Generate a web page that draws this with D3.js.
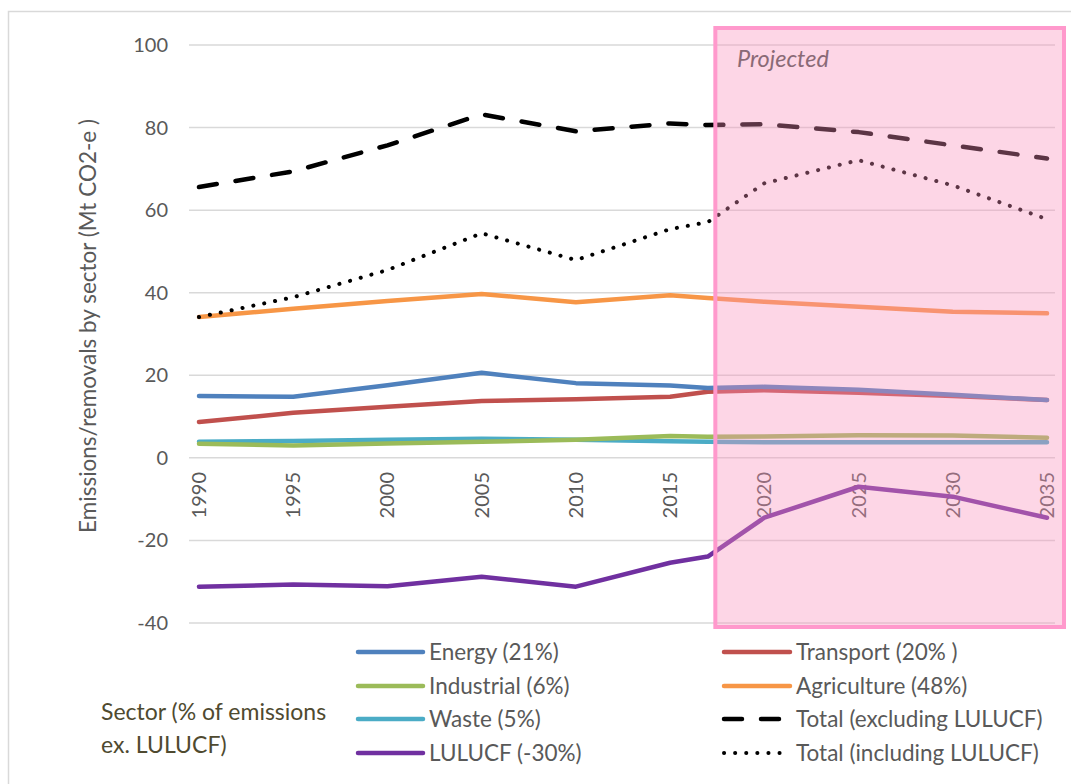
<!DOCTYPE html>
<html>
<head>
<meta charset="utf-8">
<script src="https://cdn.jsdelivr.net/npm/d3@7"></script>
<style>
  body { margin: 0; background: #fff; }
  text { font-family: Lato, "Open Sans", sans-serif; }
</style>
</head>
<body>
<div id="chart"></div>
<script>
// data (Mt CO2-e)
let years       = [1990, 1995, 2000, 2005, 2010, 2015, 2017, 2020, 2025, 2030, 2035]
let energy      = [15.0, 14.8, 17.6, 20.6, 18.1, 17.5, 16.9, 17.2, 16.5, 15.3, 14.0]
let transport   = [8.7, 10.9, 12.4, 13.8, 14.2, 14.8, 16.0, 16.4, 15.8, 15.0, 14.0]
let industrial  = [3.4, 3.0, 3.5, 3.9, 4.4, 5.3, 5.1, 5.2, 5.5, 5.4, 4.9]
let agriculture = [34.1, 36.1, 38.0, 39.7, 37.7, 39.4, 38.7, 37.8, 36.6, 35.4, 35.0]
let waste       = [3.9, 4.1, 4.4, 4.6, 4.4, 4.0, 3.9, 3.8, 3.8, 3.8, 3.8]
let lulucf      = [-31.2, -30.7, -31.1, -28.8, -31.2, -25.4, -23.9, -14.5, -7.0, -9.4, -14.5]
let totalExcl   = [65.6, 69.4, 75.7, 83.2, 79.1, 81.0, 80.6, 80.8, 78.9, 75.7, 72.5]
let totalIncl   = [34.1, 38.9, 45.5, 54.4, 47.9, 55.4, 57.1, 66.5, 72.1, 66.0, 57.8]

let xTicks = [1990, 1995, 2000, 2005, 2010, 2015, 2020, 2025, 2030, 2035]
let yTicks = [-40, -20, 0, 20, 40, 60, 80, 100]
let projectedFrom = 2017.4

let series = [
  { name: "Energy (21%)",              values: energy,      color: "#4F81BD", dash: null },
  { name: "Transport (20% )",          values: transport,   color: "#C0504D", dash: null },
  { name: "Industrial (6%)",           values: industrial,  color: "#9BBB59", dash: null },
  { name: "Agriculture (48%)",         values: agriculture, color: "#F79646", dash: null },
  { name: "Waste (5%)",                values: waste,       color: "#4BACC6", dash: null },
  { name: "Total (excluding LULUCF)",  values: totalExcl,   color: "#000000", dash: "dash" },
  { name: "LULUCF (-30%)",             values: lulucf,      color: "#7030A0", dash: null },
  { name: "Total (including LULUCF)",  values: totalIncl,   color: "#000000", dash: "dot" }
]

let width = 1071,
    height = 784

let x = d3.scaleLinear().domain([1990, 2035]).range([199, 1047])
let y = d3.scaleLinear().domain([-40, 100]).range([623, 45])

let svg = d3.select("#chart").append("svg")
    .attr("width", width)
    .attr("height", height)

// outer chart border
svg.append("rect")
    .attr("x", 8.5).attr("y", 11.5)
    .attr("width", 1080).attr("height", 800)
    .style("fill", "none")
    .style("stroke", "#d9d9d9")
    .style("stroke-width", 1.5)

// gridlines
svg.append("g").selectAll("line")
    .data(yTicks).enter()
    .append("line")
      .attr("x1", 189).attr("x2", 1055)
      .attr("y1", function(d) { return y(d) })
      .attr("y2", function(d) { return y(d) })
      .style("stroke", "#d9d9d9")
      .style("stroke-width", 1.5)

// y tick labels
svg.append("g").selectAll("text")
    .data(yTicks).enter()
    .append("text")
      .attr("x", 168)
      .attr("y", function(d) { return y(d) + 7 })
      .attr("text-anchor", "end")
      .style("font-size", "20px")
      .style("fill", "#595959")
      .text(function(d) { return d })

// x tick labels, rotated
svg.append("g").selectAll("text")
    .data(xTicks).enter()
    .append("text")
      .attr("transform", function(d) { return "translate(" + (x(d) + 7) + ",472) rotate(-90)" })
      .attr("text-anchor", "end")
      .style("font-size", "20px")
      .style("fill", "#595959")
      .text(function(d) { return d })

// y axis title
svg.append("text")
    .attr("transform", "translate(96,326) rotate(-90)")
    .attr("text-anchor", "middle")
    .style("font-size", "22.5px")
    .style("fill", "#595959")
    .text("Emissions/removals by sector (Mt CO2-e )")

let line = d3.line()
    .x(function(d, i) { return x(years[i]) })
    .y(function(d) { return y(d) })

function styleLine(sel) {
  sel.style("fill", "none")
     .style("stroke", function(d) { return d.color })
     .style("stroke-width", function(d) { return d.dash == "dot" ? 4 : 4.5 })
     .style("stroke-linecap", "round")
     .style("stroke-linejoin", "round")
     .style("stroke-dasharray", function(d) {
       if (d.dash == "dash") return "18,19"
       if (d.dash == "dot") return "0.1,11"
       return null
     })
}

let drawOrder = ["Waste (5%)", "Industrial (6%)", "Agriculture (48%)", "Transport (20% )",
                 "Energy (21%)", "LULUCF (-30%)", "Total (excluding LULUCF)", "Total (including LULUCF)"]

svg.append("g").selectAll("path")
    .data(drawOrder.map(function(n) { return series.find(function(s) { return s.name == n }) }))
    .enter().append("path")
      .attr("d", function(d) { return line(d.values) })
      .call(styleLine)

// projected shading on top
svg.append("rect")
    .attr("x", x(projectedFrom))
    .attr("y", 28)
    .attr("width", 1064 - x(projectedFrom))
    .attr("height", 599)
    .style("fill", "#F98FBA")
    .style("fill-opacity", 0.37)
    .style("stroke", "#FF99CC")
    .style("stroke-width", 4)

svg.append("text")
    .attr("x", 737).attr("y", 67)
    .style("font-size", "23.5px")
    .style("font-style", "italic")
    .style("fill", "#8a6a76")
    .text("Projected")

// legend
let legendLeft  = ["Energy (21%)", "Industrial (6%)", "Waste (5%)", "LULUCF (-30%)"]
let legendRight = ["Transport (20% )", "Agriculture (48%)", "Total (excluding LULUCF)", "Total (including LULUCF)"]
let rowY = [652, 686, 719, 753]

function drawLegend(names, x0, x1) {
  let g = svg.append("g").selectAll("g")
      .data(names.map(function(n) { return series.find(function(s) { return s.name == n }) }))
      .enter().append("g")
        .attr("transform", function(d, i) { return "translate(0," + rowY[i] + ")" })
  g.append("path")
      .attr("d", "M" + x0 + ",0H" + x1)
      .call(styleLine)
  g.append("text")
      .attr("x", x1 + 6).attr("y", 8)
      .style("font-size", "22.5px")
      .style("fill", "#595959")
      .text(function(d) { return d.name })
}
drawLegend(legendLeft, 358, 423)
drawLegend(legendRight, 724, 790)

svg.append("text")
    .attr("x", 101).attr("y", 720)
    .style("font-size", "23px")
    .style("fill", "#4f4a30")
    .text("Sector (% of emissions")
svg.append("text")
    .attr("x", 101).attr("y", 753)
    .style("font-size", "23px")
    .style("fill", "#4f4a30")
    .text("ex. LULUCF)")
</script>
</body>
</html>
